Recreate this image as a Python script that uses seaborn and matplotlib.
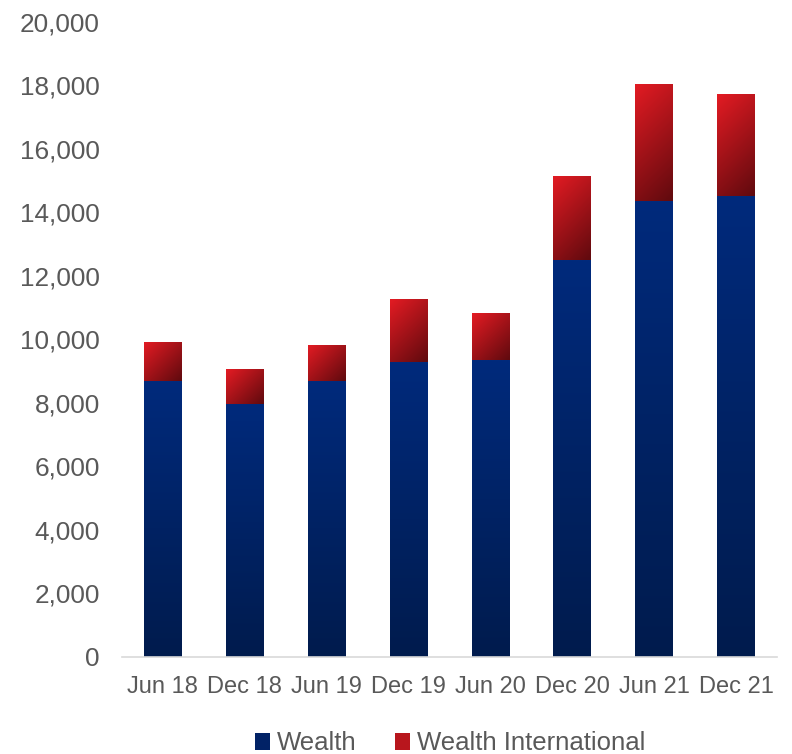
import numpy as np
import pandas as pd
import matplotlib
matplotlib.use("Agg")
import matplotlib.pyplot as plt
import seaborn as sns
from matplotlib.colors import to_rgb
from matplotlib.patches import Patch
from matplotlib.ticker import FuncFormatter

# Funds under management by reporting period
periods = ["Jun 18", "Dec 18", "Jun 19", "Dec 19", "Jun 20", "Dec 20", "Jun 21", "Dec 21"]
wealth = [8680, 7970, 8680, 9290, 9350, 12500, 14360, 14520]
wealth_international = [1230, 1090, 1140, 1980, 1480, 2650, 3690, 3210]
series_names = ["Wealth", "Wealth International"]

totals = [w + i for w, i in zip(wealth, wealth_international)]
df = pd.DataFrame({"period": periods, "wealth": wealth, "total": totals})

sns.set_theme(style="white")
plt.rcParams["font.family"] = ["Liberation Sans", "DejaVu Sans"]

fig = plt.figure(figsize=(7.92, 7.54), dpi=100)
ax = fig.add_axes([0.154, 0.1293, 0.827, 0.8415])

red_top, red_bottom = to_rgb("#e31b23"), to_rgb("#600a0e")
blue_top, blue_bottom = to_rgb("#012a7c"), to_rgb("#001b4d")

sns.barplot(data=df, x="period", y="total", color=red_top, width=0.46,
            saturation=1, ax=ax)
n_red = len(ax.patches)
sns.barplot(data=df, x="period", y="wealth", color=blue_top, width=0.46,
            saturation=1, ax=ax)

ax.set_ylim(0, 20000)
ax.set_xlim(-0.5, len(periods) - 0.5)

# the red bars become the upper segment that sits on top of the wealth bars
for k, p in enumerate(ax.patches[:n_red]):
    p.set_y(wealth[k])
    p.set_height(wealth_international[k])


def gradient_fill(patch, c_start, c_end, diagonal):
    x0, y0 = patch.get_x(), patch.get_y()
    w, h = patch.get_width(), patch.get_height()
    # pixel size of the bar, so a diagonal gradient runs at 45 degrees
    p0 = ax.transData.transform((x0, y0))
    p1 = ax.transData.transform((x0 + w, y0 + h))
    wpx, hpx = abs(p1[0] - p0[0]), abs(p1[1] - p0[1])
    ny, nx = max(int(hpx), 2), max(int(wpx), 2)
    u = np.linspace(0, 1, nx)[None, :]
    v = np.linspace(1, 0, ny)[:, None]  # 0 at top, 1 at bottom (origin lower)
    if diagonal:
        t = (u * wpx + v * hpx) / (wpx + hpx)
    else:
        t = v * np.ones_like(u)
    a = np.array(c_start)[None, None, :]
    b = np.array(c_end)[None, None, :]
    img = a + (b - a) * t[:, :, None]
    im = ax.imshow(img, extent=[x0, x0 + w, y0, y0 + h], origin="lower",
                   aspect="auto", interpolation="bilinear", zorder=patch.get_zorder())
    im.set_clip_path(patch)
    patch.set_facecolor("none")
    patch.set_edgecolor("none")


fig.canvas.draw()
for k, p in enumerate(list(ax.patches)):
    if k < n_red:
        gradient_fill(p, red_top, red_bottom, diagonal=True)
    else:
        gradient_fill(p, blue_top, blue_bottom, diagonal=False)

ax.set_ylim(0, 20000)
ax.set_xlim(-0.5, len(periods) - 0.5)
ax.set_xlabel("")
ax.set_ylabel("")
ax.yaxis.set_major_formatter(FuncFormatter(lambda v, _: f"{int(v):,}"))
ax.set_yticks(range(0, 20001, 2000))

for s in ["top", "right", "left"]:
    ax.spines[s].set_visible(False)
ax.spines["bottom"].set_color("#d9d9d9")
ax.spines["bottom"].set_linewidth(1.2)
ax.tick_params(axis="y", length=0, pad=16, labelsize=18.8, labelcolor="#595959")
ax.tick_params(axis="x", length=0, pad=14, labelsize=17, labelcolor="#595959")

handles = [Patch(facecolor="#012266", edgecolor="none"),
           Patch(facecolor="#b8161d", edgecolor="none")]
fig.legend(handles, series_names, loc="center", bbox_to_anchor=(0.568, 0.014),
           ncol=2, frameon=False, fontsize=18.5, labelcolor="#595959",
           handlelength=0.6, handleheight=0.6, handletextpad=0.25, columnspacing=1.5)

fig.savefig("out.png", dpi=100)
